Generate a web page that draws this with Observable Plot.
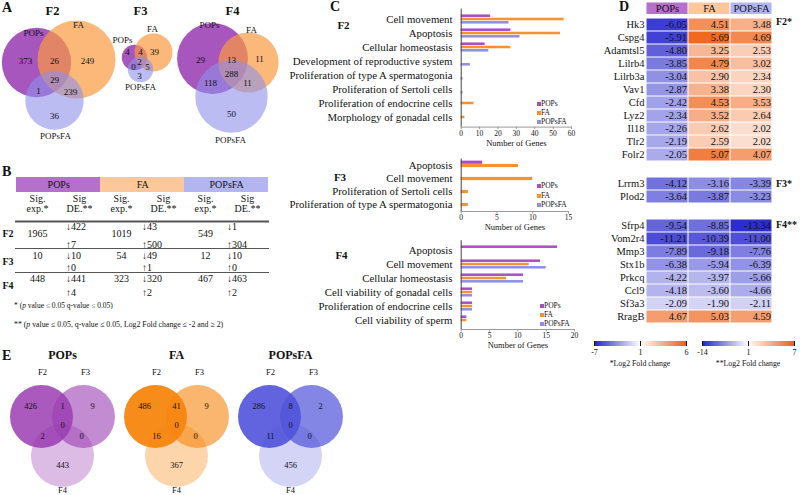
<!DOCTYPE html>
<html><head><meta charset="utf-8">
<script src="https://cdn.jsdelivr.net/npm/d3@7"></script>
<script src="https://cdn.jsdelivr.net/npm/@observablehq/plot@0.6"></script>
<style>
html,body{margin:0;padding:0;background:#fff;}
#root{position:relative;width:800px;height:495px;overflow:hidden;font-family:"Liberation Serif","Times New Roman",serif;color:#111;}
#root div{white-space:nowrap;}
</style></head><body><div id="root"></div><script>
// ---------------- DATA ----------------
const treatments = ["POPs", "FA", "POPsFA"];
const frames = ["F2", "F3", "F4"];

// Panel A: region counts [only POPs, only FA, only POPsFA, POPs∩FA, POPs∩POPsFA, FA∩POPsFA, all three]
const vennA_F2 = [373, 249, 36, 26, 1, 239, 29];
const vennA_F3 = [4, 39, 3, 4, 0, 5, 2];
const vennA_F4 = [29, 11, 50, 13, 118, 11, 288];

// Panel B: table values per frame, order POPs, FA, POPsFA
const sigExpF2 = [1965, 1019, 549];
const sigExpF3 = [10, 54, 12];
const sigExpF4 = [448, 323, 467];
const sigDownF2 = [422, 43, 1];
const sigUpF2 = [7, 500, 304];
const sigDownF3 = [10, 49, 10];
const sigUpF3 = [0, 1, 0];
const sigDownF4 = [441, 320, 463];
const sigUpF4 = [4, 2, 2];

// Panel C: number of genes per function
const catsF2 = ["Cell movement", "Apoptosis", "Cellular homeostasis", "Development of reproductive system",
  "Proliferation of type A spermatogonia", "Proliferation of Sertoli cells", "Proliferation of endocrine cells", "Morphology of gonadal cells"];
const popsC_F2 = [16, 27, 13, 0, 0, 0, 0, 0];
const faC_F2 = [56, 54, 27, 0, 0, 0, 7, 2];
const popsfaC_F2 = [26, 32, 15, 5, 1, 1, 0, 0];
const catsF3 = ["Apoptosis", "Cell movement", "Proliferation of Sertoli cells", "Proliferation of type A spermatogonia"];
const popsC_F3 = [3, 0, 0, 0];
const faC_F3 = [8, 10, 1, 1];
const popsfaC_F3 = [0, 0, 0, 0];
const catsF4 = ["Apoptosis", "Cell movement", "Cellular homeostasis", "Cell viability of gonadal cells", "Proliferation of endocrine cells", "Cell viability of sperm"];
const popsC_F4 = [17, 14, 11, 2, 2, 1];
const faC_F4 = [0, 12, 8, 2, 2, 1];
const popsfaC_F4 = [0, 15, 11, 2, 2, 0];
const ticksF2 = [0, 10, 20, 30, 40, 50, 60];
const ticksF3 = [0, 5, 10, 15];
const ticksF4 = [0, 5, 10, 15, 20];

// Panel D: log2 fold changes
const genesF2 = ["Hk3", "Cspg4", "Adamtsl5", "Lilrb4", "Lilrb3a", "Vav1", "Cfd", "Lyz2", "Il18", "Tlr2", "Folr2"];
const popsD_F2 = [-6.05, -5.91, -4.80, -3.85, -3.04, -2.87, -2.42, -2.34, -2.26, -2.19, -2.05];
const faD_F2 = [4.51, 5.69, 3.25, 4.79, 2.90, 3.38, 4.53, 3.52, 2.62, 2.59, 5.07];
const popsfaD_F2 = [3.48, 4.69, 2.53, 3.02, 2.34, 2.30, 3.53, 2.64, 2.02, 2.02, 4.07];
const genesF3 = ["Lrrm3", "Plod2"];
const popsD_F3 = [-4.12, -3.64];
const faD_F3 = [-3.16, -3.87];
const popsfaD_F3 = [-3.39, -3.23];
const genesF4 = ["Sfrp4", "Vom2r4", "Mmp3", "Stx1b", "Prkcq", "Ccl9", "Sf3a3", "RragB"];
const popsD_F4 = [-9.54, -11.21, -7.89, -6.38, -4.22, -4.18, -2.09, 4.67];
const faD_F4 = [-8.85, -10.39, -9.18, -5.94, -3.97, -3.60, -1.90, 5.03];
const popsfaD_F4 = [-13.34, -11.00, -7.76, -6.39, -5.66, -4.66, -2.11, 4.59];
const legendTicks1 = [-7, 1, 6];
const legendTicks2 = [-14, 1, 7];

// Panel E: region counts [only F2, only F3, only F4, F2∩F3, F2∩F4, F3∩F4, all]
const vennE_POPs = [426, 9, 443, 1, 2, 0, 0];
const vennE_FA = [486, 9, 367, 41, 16, 0, 0];
const vennE_POPsFA = [286, 2, 456, 8, 11, 0, 0];

// ---------------- STYLE / LAYOUT ----------------
const FONT = '"Liberation Serif","Times New Roman",serif';
const mkStyle = (fs) => ({background: "transparent", fontFamily: FONT, fontSize: (fs || 10) + "px", color: "#111", overflow: "visible"});
const barColors = ["#a94fc0", "#f7922e", "#8d90e9"];
const headerColors = ["#b470ca", "#fcc89b", "#b3b5f1"];
const vennAColors = ["#a24dba", "#f99a40", "#8d90ea"];
const vennAOpacity = [0.95, 0.7, 0.6];
const heatRange = ["#2323cc", "#ffffff", "#ee5f12"];
const eColors = ["#9b3db2", "#f7860f", "#5053da"];
const eOpacity = [[0.85, 0.6, 0.35], [0.95, 0.6, 0.35], [0.9, 0.7, 0.25]];

const root = document.getElementById("root");
function place(node, left, top) {
  node.style.position = "absolute"; node.style.left = left + "px"; node.style.top = top + "px";
  root.appendChild(node); return node;
}
function htext(str, x, base, size, {bold = false, anchor = "start"} = {}) {
  const d = document.createElement("div");
  d.style.cssText = `position:absolute;font-size:${size}px;line-height:${size}px;left:${x}px;top:${base - 0.8375 * size}px;font-weight:${bold ? "bold" : "normal"};`;
  if (anchor === "middle") d.style.transform = "translateX(-50%)";
  else if (anchor === "end") d.style.transform = "translateX(-100%)";
  d.innerHTML = str; root.appendChild(d); return d;
}

// panel letters
htext("A", 2, 13, 14, {bold: true});
htext("B", 2, 177, 14, {bold: true});
htext("C", 330, 12, 14, {bold: true});
htext("D", 619, 11.5, 14, {bold: true});
htext("E", 2, 361, 14, {bold: true});

// ---------------- PANEL A ----------------
const layoutA = {
  F2: {title: [52, 10], centers: [[36, 62], [76, 59], [54, 100]], setLabels: [[33, 33], [78, 25], [55, 136]],
       regions: [[25, 61], [87, 61], [54, 116], [54, 61], [38, 91], [70, 92], [54, 80]]},
  F3: {title: [140, 10], centers: [[134, 57], [153, 52], [140, 69]], setLabels: [[122, 40], [152, 29], [140, 87]],
       regions: [[127, 52], [154, 52], [139, 76], [140, 52], [133, 67], [147, 67], [139, 62]]},
  F4: {title: [232, 10], centers: [[212, 58], [248, 62], [231, 96]], setLabels: [[209, 25], [251, 30], [230, 140]],
       regions: [[200, 60], [259, 59], [231, 114], [231, 60], [210, 83], [247, 83], [231, 74]]}
};
[vennA_F2, vennA_F3, vennA_F4].forEach((counts, fi) => {
  const L = layoutA[frames[fi]];
  const totals = [counts[0] + counts[3] + counts[4] + counts[6], counts[1] + counts[3] + counts[5] + counts[6], counts[2] + counts[4] + counts[5] + counts[6]];
  const circles = treatments.map((t, j) => ({t, j, total: totals[j], x: L.centers[j][0], y: L.centers[j][1]}));
  const regions = counts.map((c, k) => ({c, x: L.regions[k][0], y: L.regions[k][1]}));
  const sets = treatments.map((t, j) => ({t, x: L.setLabels[j][0], y: L.setLabels[j][1]}));
  const svg = Plot.plot({
    width: 300, height: 150, margin: 0,
    x: {domain: [0, 300], range: [0, 300], axis: null},
    y: {domain: [0, 150], range: [0, 150], axis: null},
    r: fi === 1 ? {type: "pow", exponent: 0.25, domain: [0, 50], range: [0, 19]} : {type: "sqrt", domain: [0, 543], range: [0, 39]},
    style: mkStyle(9),
    marks: [
      Plot.dot(circles, {x: "x", y: "y", r: "total", fill: d => vennAColors[d.j], fillOpacity: d => vennAOpacity[d.j], stroke: "none", sort: null}),
      Plot.text(regions, {x: "x", y: "y", text: d => String(d.c), fontSize: 9, fill: "#111"}),
      Plot.text(sets, {x: "x", y: "y", text: "t", fontSize: 9, fill: "#111"}),
      Plot.text([frames[fi]], {x: L.title[0], y: L.title[1], text: d => d, fontSize: 12.5, fontWeight: "bold"})
    ]
  });
  place(svg, 0, 0);
});

// ---------------- PANEL B ----------------
const colKeys = treatments.flatMap(t => [t + "|exp", t + "|DE"]);
const sigExp = [sigExpF2, sigExpF3, sigExpF4];
const sigDown = [sigDownF2, sigDownF3, sigDownF4];
const sigUp = [sigUpF2, sigUpF3, sigUpF4];
const tableRows = frames.flatMap((f, i) => treatments.map((t, j) => ({frame: f, t, j, exp: sigExp[i][j], down: sigDown[i][j], up: sigUp[i][j]})));
const rowLayout = {F2: {label: 73, mid: 73, down: 66.5, up: 84}, F3: {label: 101, mid: 95, down: 95, up: 107}, F4: {label: 125, mid: 118, down: 118, up: 132}};
const deOffset = [-13.5, -21.5, -20.5];
{
  const deMarks = treatments.flatMap((t, j) => {
    const rows = tableRows.filter(d => d.j === j);
    return [
      Plot.text(rows, {x: d => d.t + "|DE", y: d => rowLayout[d.frame].down, dx: deOffset[j], text: d => "↓" + d.down, textAnchor: "start", fontSize: 10}),
      Plot.text(rows, {x: d => d.t + "|DE", y: d => rowLayout[d.frame].up, dx: deOffset[j], text: d => "↑" + d.up, textAnchor: "start", fontSize: 10})
    ];
  });
  const svg = Plot.plot({
    width: 300, height: 160, marginLeft: 15, marginRight: 31, marginTop: 0, marginBottom: 0,
    x: {type: "band", domain: colKeys, padding: 0, axis: null},
    y: {type: "linear", domain: [0, 160], range: [0, 160], axis: null},
    style: mkStyle(10),
    marks: [
      Plot.barY(colKeys, {x: d => d, y1: 17, y2: 32, fill: d => headerColors[treatments.indexOf(d.split("|")[0])]}),
      Plot.text(treatments, {x: t => t + "|exp", y: 24.5, dx: 21.2, text: d => d, fontSize: 10}),
      Plot.text(colKeys, {x: d => d, y: 43, text: d => d.endsWith("exp") ? "Sig.\nexp.*" : "Sig\nDE.**", lineHeight: 1.0, fontSize: 10}),
      Plot.ruleY([61], {stroke: "#555", strokeWidth: 2}),
      Plot.ruleY([88, 112], {stroke: "#555", strokeWidth: 1}),
      Plot.text(frames, {y: f => rowLayout[f].label, frameAnchor: "left", textAnchor: "start", dx: -13, text: d => d, fontSize: 10, fontWeight: "bold"}),
      Plot.text(tableRows, {x: d => d.t + "|exp", y: d => rowLayout[d.frame].mid, text: d => String(d.exp), fontSize: 10}),
      ...deMarks
    ]
  });
  place(svg, 0, 160);
}
htext("* (<i>p</i> value ≤ 0.05 q-value ≤ 0.05)", 14, 308, 7.5);
htext("** (<i>p</i> value ≤ 0.05, q-value ≤ 0.05, Log2 Fold change ≤ -2 and ≥ 2)", 14, 327.5, 7.8);

// ---------------- PANEL C ----------------
function barPanel(cats, vals, ticks, top, height, mt, mb, marginRight) {
  const data = cats.flatMap((c, i) => treatments.map((t, j) => ({cat: c, t, j, v: vals[j][i]})));
  const bw = (height - mt - mb) / cats.length, bh = 3.3, off = (bw - 3 * bh) / 2;
  const bars = treatments.map((t, j) => Plot.barX(data.filter(d => d.j === j && d.v > 0), {
    x: "v", y: "cat", fill: barColors[j], insetTop: off + j * bh, insetBottom: bw - off - (j + 1) * bh
  }));
  const svg = Plot.plot({
    width: 298, height, marginLeft: 180.7, marginRight, marginTop: mt, marginBottom: mb,
    x: {domain: [ticks[0], ticks[ticks.length - 1]], axis: null},
    y: {domain: cats, padding: 0, axis: null},
    style: mkStyle(10.8),
    marks: [
      ...bars,
      Plot.frame({anchor: "bottom", stroke: "#9a9a9a"}),
      Plot.ruleX([0], {stroke: "#444"}),
      Plot.axisX({ticks, tickSize: 2.5, tickFormat: () => "", label: null, stroke: "#9a9a9a"}),
      Plot.text(ticks, {x: d => d, frameAnchor: "bottom", dy: 8.5, text: d => String(d), fontSize: 7.5, fontFamily: FONT}),
      Plot.text(cats, {y: d => d, frameAnchor: "left", textAnchor: "end", dx: -8.7, text: d => d, fontSize: 10.8, fontFamily: FONT}),
      Plot.text(["Number of Genes"], {frameAnchor: "bottom", dy: 18.5, text: d => d, fontSize: 8.5, fontFamily: FONT})
    ]
  });
  place(svg, 280, top);
}
barPanel(catsF2, [popsC_F2, faC_F2, popsfaC_F2], ticksF2, 0, 152, 8.6, 25.4, 7);
barPanel(catsF3, [popsC_F3, faC_F3, popsfaC_F3], ticksF3, 150, 86, 8.5, 25, 10);
barPanel(catsF4, [popsC_F4, faC_F4, popsfaC_F4], ticksF4, 230, 124, 10.2, 25, 4);
htext("F2", 343.5, 29, 11, {bold: true, anchor: "middle"});
htext("F3", 340, 181.5, 11, {bold: true, anchor: "middle"});
htext("F4", 341.5, 259.5, 11, {bold: true, anchor: "middle"});
function cLegend(x, ys) {
  treatments.forEach((t, j) => {
    const sq = document.createElement("div");
    sq.style.cssText = `position:absolute;left:${x}px;top:${ys[j] - 2}px;width:4px;height:4px;background:${barColors[j]};`;
    root.appendChild(sq);
    htext(t, x + 4.5, ys[j] + 2.6, 7.5);
  });
}
cLegend(536.5, [103.5, 112.7, 121.7]);
cLegend(536.5, [186, 195.5, 205]);
cLegend(539.5, [305.5, 314.5, 323.5]);

// ---------------- PANEL D ----------------
{
  const svg = Plot.plot({
    width: 190, height: 12.5, marginLeft: 56, marginRight: 8, marginTop: 0, marginBottom: 0,
    x: {domain: treatments, padding: 0, axis: null},
    style: mkStyle(10.5),
    marks: [
      Plot.cell(treatments, {x: d => d, fill: (d, i) => headerColors[i], inset: 0.5}),
      Plot.text(treatments, {x: d => d, text: d => d, fontSize: 10.5, frameAnchor: "middle"})
    ]
  });
  place(svg, 590, 1.5);
}
function heatBlock(genes, vals, domain, top) {
  const data = genes.flatMap((g, i) => treatments.map((t, j) => ({g, t, v: vals[j][i]})));
  const svg = Plot.plot({
    width: 190, height: genes.length * 13.33, marginLeft: 56, marginRight: 8, marginTop: 0, marginBottom: 0,
    x: {domain: treatments, padding: 0, axis: null},
    y: {domain: genes, padding: 0, axis: null},
    color: {type: "linear", domain, range: heatRange},
    style: mkStyle(10.5),
    marks: [
      Plot.cell(data, {x: "t", y: "g", fill: "v", inset: 0.5}),
      Plot.text(data, {x: "t", y: "g", text: d => d.v.toFixed(2), textAnchor: "end", dx: 19.5, fontSize: 10.5, fill: "#111"}),
      Plot.text(genes, {y: d => d, frameAnchor: "left", textAnchor: "end", dx: -2, text: d => d, fontSize: 10.5})
    ]
  });
  place(svg, 590, top);
}
heatBlock(genesF2, [popsD_F2, faD_F2, popsfaD_F2], legendTicks1, 15.5);
heatBlock(genesF3, [popsD_F3, faD_F3, popsfaD_F3], legendTicks1, 177.3);
heatBlock(genesF4, [popsD_F4, faD_F4, popsfaD_F4], legendTicks2, 218.4);
htext("F2*", 776, 25.5, 10, {bold: true});
htext("F3*", 776, 187.5, 10, {bold: true});
htext("F4**", 776, 228.5, 10, {bold: true});
[[legendTicks1, 588, "*Log2 Fold change"], [legendTicks2, 696, "**Log2 Fold change"]].forEach(([ticks, left, label]) => {
  const lg = Plot.legend({
    color: {type: "linear", domain: ticks, range: heatRange},
    width: 104, height: 21, marginTop: 2, marginBottom: 14, marginLeft: 6, marginRight: 6,
    ticks, tickSize: 0, tickFormat: d => String(d),
    style: {fontSize: "8px", fontFamily: FONT, background: "transparent", color: "#111"}
  });
  place(lg, left, 339);
  htext(label, left + 52, 367, 7.8, {anchor: "middle"});
});

// ---------------- PANEL E ----------------
{
  const eMid = [62, 176, 290], eTop = 416, eBot = 455, eHalf = 21, eR = 31.5;
  const eOffsets = [[-32, -10], [30, -10], [0, 49], [0, -10], [-20, 20], [19, 20], [0, 9]];
  const counts = [vennE_POPs, vennE_FA, vennE_POPsFA];
  const circles = [], texts = [], setLabs = [];
  treatments.forEach((t, v) => {
    const c = [[eMid[v] - eHalf, eTop], [eMid[v] + eHalf, eTop], [eMid[v], eBot]];
    frames.forEach((f, k) => circles.push({x: c[k][0], y: c[k][1], fill: eColors[v], op: eOpacity[v][k]}));
    counts[v].forEach((n, k) => texts.push({n, x: eMid[v] + eOffsets[k][0], y: eTop + eOffsets[k][1]}));
    setLabs.push({s: frames[0], x: c[0][0] + 1, y: 372}, {s: frames[1], x: c[1][0] + 2, y: 372}, {s: frames[2], x: c[2][0], y: 490});
  });
  const svg = Plot.plot({
    width: 345, height: 155, margin: 0,
    x: {domain: [0, 345], range: [0, 345], axis: null},
    y: {domain: [340, 495], range: [0, 155], axis: null},
    style: mkStyle(8.5),
    marks: [
      Plot.dot(circles, {x: "x", y: "y", r: eR, fill: "fill", fillOpacity: "op", stroke: "none"}),
      Plot.text(texts, {x: "x", y: "y", text: d => String(d.n), fontSize: 8.5, fill: "#111"}),
      Plot.text(setLabs, {x: "x", y: "y", text: "s", fontSize: 8.5, fill: "#111"}),
      Plot.text(treatments, {x: (d, i) => eMid[i], y: 355, text: d => d, fontSize: 12, fontWeight: "bold"})
    ]
  });
  place(svg, 0, 340);
}
</script></body></html>
